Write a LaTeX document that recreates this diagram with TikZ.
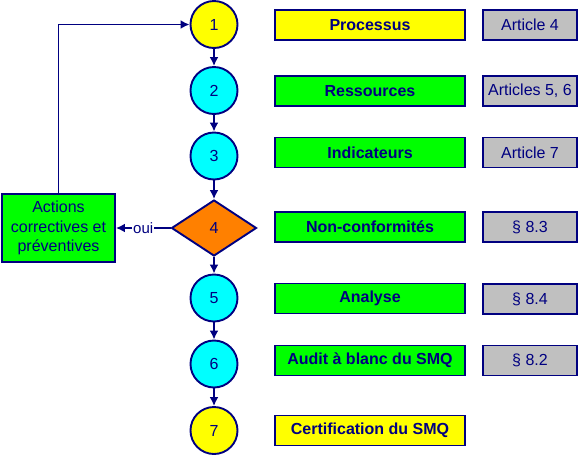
\documentclass[tikz,border=0pt]{standalone}
\usepackage{fontspec}
\setmainfont{Liberation Sans}
\usetikzlibrary{shapes.geometric,arrows.meta}
\definecolor{navy}{HTML}{000080}
\definecolor{yel}{HTML}{FFFF00}
\definecolor{cya}{HTML}{00FFFF}
\definecolor{grn}{HTML}{00FF00}
\definecolor{gry}{HTML}{C0C0C0}
\definecolor{org}{HTML}{FF8000}
\begin{document}
\begin{tikzpicture}[x=1pt,y=-1pt,
  font=\fontsize{16}{19.5}\selectfont,
  every node/.style={text=navy},
  stepnum/.style={circle,draw=navy,line width=1.9pt,minimum size=47pt,inner sep=0pt},
  mainbox/.style={draw=navy,line width=1.9pt,minimum width=190pt,minimum height=30pt,inner sep=0pt,font=\fontsize{16}{19.5}\selectfont\bfseries},
  refbox/.style={draw=navy,line width=1.9pt,fill=gry,minimum width=94pt,minimum height=30pt,inner sep=0pt},
  conn/.style={draw=navy,line width=1.9pt,-{Latex[length=9pt,width=9pt]}}
]
\useasboundingbox (0,0) rectangle (579,456);
% steps
\node[stepnum,fill=yel] (c1) at (214,24.5) {1};
\node[stepnum,fill=cya] (c2) at (214,90.5) {2};
\node[stepnum,fill=cya] (c3) at (214,156) {3};
\node[diamond,draw=navy,line width=1.9pt,fill=org,minimum width=85pt,minimum height=56pt,inner sep=0pt] (d4) at (214,228) {4};
\node[stepnum,fill=cya] (c5) at (214,298) {5};
\node[stepnum,fill=cya] (c6) at (214,364) {6};
\node[stepnum,fill=yel] (c7) at (214,430.5) {7};
% main boxes
\node[mainbox,fill=yel] (b1) at (370,25) {Processus};
\node[mainbox,fill=grn] (b2) at (370,91) {Ressources};
\node[mainbox,fill=grn] (b3) at (370,152.5) {Indicateurs};
\node[mainbox,fill=grn] (b4) at (370,227) {Non-conformités};
\node[mainbox,fill=grn] (b5) at (370,298.5) {Analyse};
\node[mainbox,fill=grn] (b6) at (370,360.5) {Audit à blanc du SMQ};
\node[mainbox,fill=yel] (b7) at (370,430.5) {Certification du SMQ};
% reference boxes
\node[refbox] (r1) at (530,25) {Article 4};
\node[refbox] (r2) at (530,91) {Articles 5, 6};
\node[refbox] (r3) at (530,152.5) {Article 7};
\node[refbox] (r4) at (530,227) {§ 8.3};
\node[refbox] (r5) at (530,299) {§ 8.4};
\node[refbox] (r6) at (530,360.5) {§ 8.2};
% actions
\node[draw=navy,line width=1.9pt,fill=grn,minimum width=113pt,minimum height=68pt,inner sep=0pt,align=center] (act) at (58.5,228) {Actions\\correctives et\\préventives};
% connectors
\draw[conn] (c1) -- (c2);
\draw[conn] (c2) -- (c3);
\draw[conn] (c3) -- (d4);
\draw[conn] (d4) -- (c5);
\draw[conn] (c5) -- (c6);
\draw[conn] (c6) -- (c7);
\draw[conn] (d4) -- node[fill=white,inner sep=1pt,font=\fontsize{15}{17}\selectfont] (oui) {oui} (act);
\draw[conn] (act.north) |- (c1.west);
\end{tikzpicture}
\end{document}
